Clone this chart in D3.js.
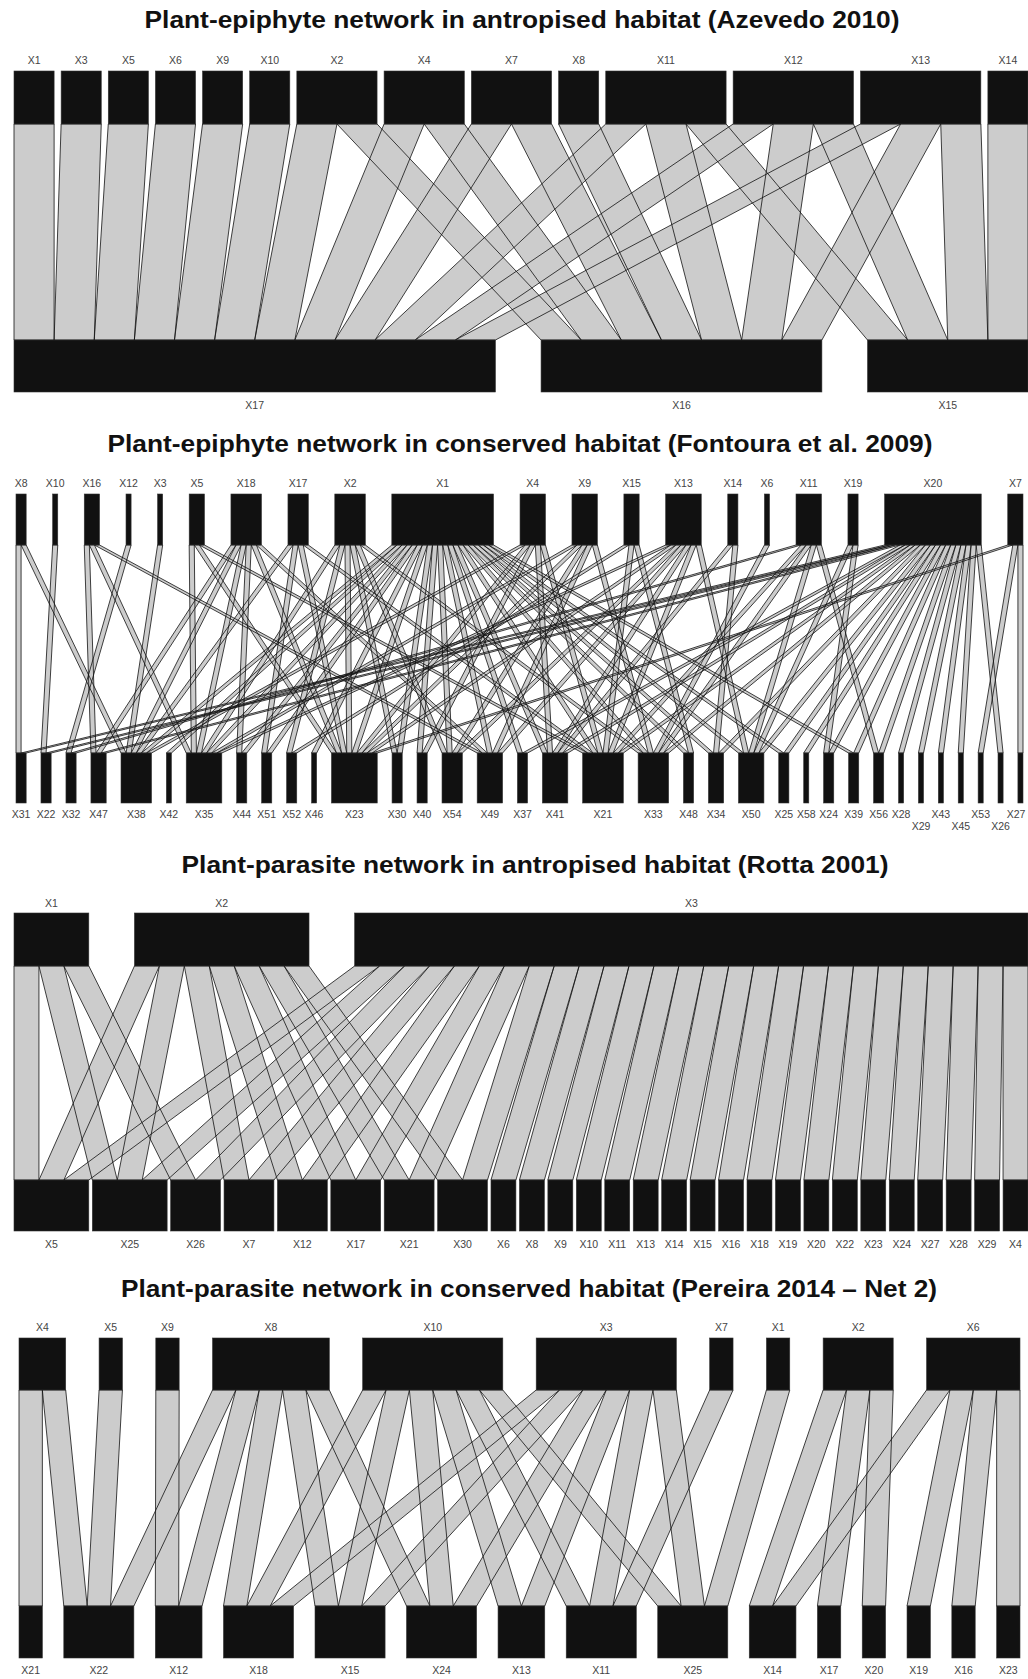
<!DOCTYPE html>
<html>
<head>
<meta charset="utf-8">
<script src="https://cdn.jsdelivr.net/npm/d3@7"></script>
<style>
  body { margin: 0; background: #fff; }
  svg { display: block; }
</style>
</head>
<body>
<svg id="chart" width="1028" height="1679"></svg>
<script>
// ---------- Azevedo 2010 (antropised, epiphytes) ----------
const azevedoUpper = ["X1","X3","X5","X6","X9","X10","X2","X4","X7","X8","X11","X12","X13","X14"];
const azevedoLower = ["X17","X16","X15"];
const azevedoLinks = [
  ["X1","X17"],["X3","X17"],["X5","X17"],["X6","X17"],["X9","X17"],["X10","X17"],
  ["X2","X17"],["X2","X16"],["X4","X17"],["X4","X16"],["X7","X17"],["X7","X16"],
  ["X8","X16"],
  ["X11","X17"],["X11","X16"],["X11","X15"],
  ["X12","X17"],["X12","X16"],["X12","X15"],
  ["X13","X17"],["X13","X16"],["X13","X15"],
  ["X14","X15"]
];

// ---------- Fontoura et al. 2009 (conserved, epiphytes) ----------
const fontouraUpper = ["X8","X10","X16","X12","X3","X5","X18","X17","X2","X1","X4","X9","X15","X13","X14","X6","X11","X19","X20","X7"];
const fontouraLower = ["X31","X22","X32","X47","X38","X42","X35","X44","X51","X52","X46","X23","X30","X40","X54","X49","X37","X41","X21","X33","X48","X34","X50","X25","X58","X24","X39","X56","X28","X29","X43","X45","X53","X26","X27"];
const fontouraNeighbours = {
  X8:  ["X31","X38"],
  X10: ["X22"],
  X16: ["X47","X35","X49"],
  X12: ["X32"],
  X3:  ["X38"],
  X5:  ["X35","X23","X21"],
  X18: ["X47","X38","X35","X44","X23","X49"],
  X17: ["X38","X51","X23","X21"],
  X2:  ["X35","X52","X23","X30","X54","X33"],
  X1:  ["X38","X42","X35","X44","X51","X46","X23","X30","X40","X54","X49","X37","X41","X21","X33","X34","X50","X48","X25","X39"],
  X4:  ["X38","X23","X40","X41","X21"],
  X9:  ["X35","X23","X54","X49","X33"],
  X15: ["X52","X21","X48"],
  X13: ["X35","X23","X54","X49","X41","X21","X50"],
  X14: ["X41","X34"],
  X6:  ["X33"],
  X11: ["X32","X21","X33","X50","X56"],
  X19: ["X50","X24"],
  X20: ["X22","X47","X31","X41","X21","X33","X34","X50","X25","X58","X24","X39","X56","X28","X29","X43","X45","X26","X37"],
  X7:  ["X23","X53","X27"]
};

// ---------- Rotta 2001 (antropised, parasites) ----------
const rottaUpper = ["X1","X2","X3"];
const rottaLower = ["X5","X25","X26","X7","X12","X17","X21","X30","X6","X8","X9","X10","X11","X13","X14","X15","X16","X18","X19","X20","X22","X23","X24","X27","X28","X29","X4"];
const rottaNeighbours = {
  X1: ["X5","X25","X26"],
  X2: ["X5","X25","X7","X12","X17","X21","X30"],
  X3: rottaLower
};

// ---------- Pereira 2014, Net 2 (conserved, parasites) ----------
const pereiraUpper = ["X4","X5","X9","X8","X10","X3","X7","X1","X2","X6"];
const pereiraLower = ["X21","X22","X12","X18","X15","X24","X13","X11","X25","X14","X17","X20","X19","X16","X23"];
const pereiraNeighbours = {
  X4:  ["X21","X22"],
  X5:  ["X22"],
  X9:  ["X12"],
  X8:  ["X22","X12","X18","X15","X24"],
  X10: ["X18","X15","X24","X13","X11","X25"],
  X3:  ["X18","X15","X24","X13","X11","X25"],
  X7:  ["X11"],
  X1:  ["X25"],
  X2:  ["X14","X17","X20"],
  X6:  ["X14","X19","X16","X23"]
};

const titles = [
  "Plant-epiphyte network in antropised habitat (Azevedo 2010)",
  "Plant-epiphyte network in conserved habitat (Fontoura et al. 2009)",
  "Plant-parasite network in antropised habitat (Rotta 2001)",
  "Plant-parasite network in conserved habitat (Pereira 2014 \u2013 Net 2)"
];

function pairs(neigh) {
  const out = [];
  Object.entries(neigh).forEach(([u, ls]) => ls.forEach(l => out.push([u, l])));
  return out;
}

const svg = d3.select("#chart");
const FONT = "Liberation Sans, Arial, sans-serif";

function drawWeb(cfg) {
  const { upper, lower, links, title, x0, x1, gapShare, titleX, titleW,
          yTitle, yUpLabel, upTop, upBottom, lowTop, lowBottom, yLowLabel } = cfg;
  const g = svg.append("g");
  const W = x1 - x0;
  const degU = new Map(upper.map(n => [n, 0]));
  const degL = new Map(lower.map(n => [n, 0]));
  links.forEach(([u, l]) => { degU.set(u, degU.get(u) + 1); degL.set(l, degL.get(l) + 1); });
  const total = links.length;
  const unit = d3.scaleLinear().domain([0, total]).range([0, W * (1 - gapShare)]);

  function place(nodes, deg) {
    const gap = W * gapShare / (nodes.length - 1);
    let cum = 0;
    const pos = new Map();
    nodes.forEach((n, i) => {
      pos.set(n, { name: n, x: x0 + unit(cum) + i * gap, w: unit(deg.get(n)) });
      cum += deg.get(n);
    });
    return pos;
  }
  const pu = place(upper, degU);
  const pl = place(lower, degL);
  const iu = new Map(upper.map((n, i) => [n, i]));
  const il = new Map(lower.map((n, i) => [n, i]));

  // slot of each link inside its upper box (ordered by lower node) and lower box (ordered by upper node)
  const bands = links.map(([u, l]) => ({ u, l }));
  upper.forEach(u => {
    bands.filter(b => b.u === u).sort((a, b) => il.get(a.l) - il.get(b.l))
      .forEach((b, k) => { b.su = k; });
  });
  lower.forEach(l => {
    bands.filter(b => b.l === l).sort((a, b) => iu.get(a.u) - iu.get(b.u))
      .forEach((b, k) => { b.sl = k; });
  });
  const step = unit(1) - unit(0);
  bands.forEach(b => {
    const a = pu.get(b.u).x + b.su * step;
    const c = pl.get(b.l).x + b.sl * step;
    b.pts = [[a, upBottom], [a + step, upBottom], [c + step, lowTop], [c, lowTop]];
  });

  const line = d3.line();
  // fills first, outlines afterwards so every band edge stays visible
  g.append("g").selectAll("path").data(bands).join("path")
    .attr("d", b => line(b.pts) + "Z")
    .attr("fill", "#cccccc").attr("stroke", "none");
  g.append("g").selectAll("path").data(bands).join("path")
    .attr("d", b => line(b.pts) + "Z")
    .attr("fill", "none").attr("stroke", "#111").attr("stroke-width", 0.8);

  const boxes = (pos, y0, y1) => g.append("g").selectAll("rect").data([...pos.values()]).join("rect")
    .attr("x", d => d.x).attr("y", y0).attr("width", d => d.w).attr("height", y1 - y0)
    .attr("fill", "#111").attr("stroke", "#333").attr("stroke-width", 0.6);
  boxes(pu, upTop, upBottom);
  boxes(pl, lowTop, lowBottom);

  const labelStyle = sel => sel
    .attr("text-anchor", "middle")
    .attr("font-family", FONT)
    .attr("font-size", 10.5).attr("fill", "#444");

  g.append("g").selectAll("text").data([...pu.values()]).join("text")
    .attr("x", d => Math.min(d.x + d.w / 2, 1016)).attr("y", yUpLabel).text(d => d.name).call(labelStyle);

  // lower labels: drop a label one line when it sits too close to an unshifted neighbour
  const lowVals = [...pl.values()];
  let prevC = -1e9, prevDropped = false;
  lowVals.forEach(d => {
    const c = d.x + d.w / 2;
    d.drop = !prevDropped && (c - prevC) < 21;
    prevDropped = d.drop; prevC = c;
  });
  g.append("g").selectAll("text").data(lowVals).join("text")
    .attr("x", d => Math.min(d.x + d.w / 2, 1016)).attr("y", d => yLowLabel + (d.drop ? 12 : 0))
    .text(d => d.name).call(labelStyle);

  g.append("text").attr("x", titleX).attr("y", yTitle).attr("text-anchor", "middle")
    .attr("font-family", FONT).attr("font-weight", "bold")
    .attr("font-size", 24).attr("fill", "#111")
    .attr("textLength", titleW).attr("lengthAdjust", "spacingAndGlyphs")
    .text(title);
}

drawWeb({ upper: azevedoUpper, lower: azevedoLower, links: azevedoLinks, title: titles[0],
  x0: 14, x1: 1028, gapShare: 0.09, titleX: 522, titleW: 755,
  yTitle: 28, yUpLabel: 64, upTop: 71, upBottom: 124, lowTop: 340, lowBottom: 392, yLowLabel: 409 });

drawWeb({ upper: fontouraUpper, lower: fontouraLower, links: pairs(fontouraNeighbours), title: titles[1],
  x0: 16, x1: 1023, gapShare: 0.5, titleX: 520, titleW: 825,
  yTitle: 452, yUpLabel: 487, upTop: 494, upBottom: 545, lowTop: 753, lowBottom: 803, yLowLabel: 818 });

drawWeb({ upper: rottaUpper, lower: rottaLower, links: pairs(rottaNeighbours), title: titles[2],
  x0: 14, x1: 1028, gapShare: 0.09, titleX: 535, titleW: 707,
  yTitle: 873, yUpLabel: 907, upTop: 913, upBottom: 966, lowTop: 1180, lowBottom: 1231, yLowLabel: 1248 });

drawWeb({ upper: pereiraUpper, lower: pereiraLower, links: pairs(pereiraNeighbours), title: titles[3],
  x0: 19, x1: 1020, gapShare: 0.3, titleX: 529, titleW: 816,
  yTitle: 1297, yUpLabel: 1331, upTop: 1338, upBottom: 1390, lowTop: 1606, lowBottom: 1658, yLowLabel: 1674 });
</script>
</body>
</html>
